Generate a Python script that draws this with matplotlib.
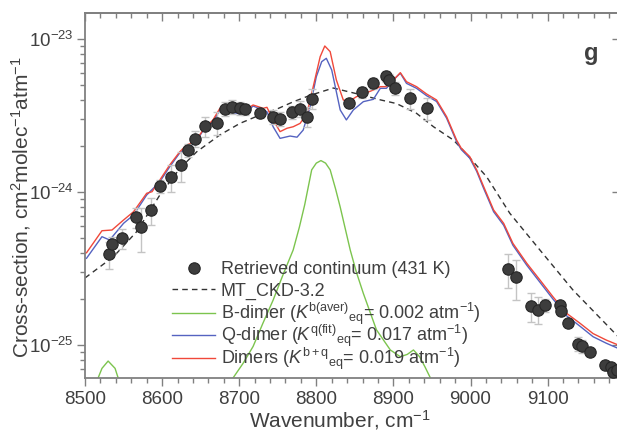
import matplotlib
matplotlib.use('Agg')
import matplotlib.pyplot as plt
import numpy as np
from matplotlib.ticker import MultipleLocator, LogLocator, NullFormatter
from matplotlib.lines import Line2D
from matplotlib.legend import Legend

plt.rcParams['font.family'] = ['Liberation Sans', 'DejaVu Sans']
plt.rcParams['mathtext.fontset'] = 'custom'
plt.rcParams['mathtext.rm'] = 'Liberation Sans'
plt.rcParams['mathtext.it'] = 'Liberation Sans:italic'
plt.rcParams['mathtext.bf'] = 'Liberation Sans:bold'

txt_col = '#404040'
ax_col = '#808080'

# retrieved continuum (431 K)
wn_pts = [8531, 8535, 8548, 8566, 8573, 8585, 8597, 8612, 8624, 8633,
          8643, 8656, 8671, 8682, 8691, 8701, 8708, 8727, 8744, 8753,
          8768, 8779, 8788, 8794, 8843, 8859, 8873, 8890, 8894, 8902,
          8921, 8944, 9049, 9059, 9078, 9088, 9096, 9116, 9117, 9127,
          9140, 9144, 9155, 9174, 9182, 9185, 9190]
cs_pts = [3.94e-25, 4.58e-25, 5.0e-25, 6.9e-25, 5.95e-25, 7.65e-25, 1.10e-24, 1.26e-24, 1.50e-24, 1.89e-24,
          2.24e-24, 2.71e-24, 2.85e-24, 3.52e-24, 3.63e-24, 3.55e-24, 3.48e-24, 3.31e-24, 3.12e-24, 3.03e-24,
          3.35e-24, 3.52e-24, 3.12e-24, 4.09e-24, 3.81e-24, 4.52e-24, 5.15e-24, 5.75e-24, 5.45e-24, 4.80e-24,
          4.13e-24, 3.55e-24, 3.16e-25, 2.80e-25, 1.81e-25, 1.71e-25, 1.82e-25, 1.82e-25, 1.66e-25, 1.39e-25,
          1.02e-25, 9.86e-26, 9.0e-26, 7.45e-26, 7.23e-26, 6.67e-26, 6.9e-26]
# relative uncertainty of each point
rel_err = [0.2, 0.12, 0.15, 0.15, 0.32, 0.2, 0.1, 0.2, 0.22, 0.1,
           0.12, 0.15, 0.17, 0.1, 0.1, 0.1, 0.08, 0.07, 0.1, 0.1,
           0.1, 0.12, 0.15, 0.15, 0.05, 0.08, 0.08, 0.08, 0.08, 0.1,
           0.15, 0.16, 0.25, 0.29, 0.22, 0.2, 0.1, 0.05, 0.05, 0.05,
           0.1, 0.1, 0.05, 0.05, 0.05, 0.05, 0.05]

# MT_CKD-3.2
wn_ckd = [8500, 8537, 8567, 8597, 8623, 8645, 8675, 8701, 8727, 8749,
          8770, 8792, 8822, 8857, 8880, 8904, 8930, 8952, 8978, 8990,
          9021, 9051, 9090, 9133, 9192]
ckd = [2.75e-25, 3.79e-25, 5.52e-25, 9.57e-25, 1.43e-24, 1.84e-24, 2.37e-24, 2.82e-24, 3.2e-24, 3.5e-24,
       3.9e-24, 4.3e-24, 4.8e-24, 4.35e-24, 4.05e-24, 3.8e-24, 3.28e-24, 2.68e-24, 2.19e-24, 1.89e-24,
       1.26e-24, 7.28e-25, 4.19e-25, 2.29e-25, 1.13e-25]

# B-dimer
wn_b = [8500, 8510, 8517, 8522, 8530, 8539, 8543, 8550, 8600, 8650,
        8685, 8692, 8705, 8718, 8731, 8744, 8757, 8770, 8778, 8785,
        8794, 8800, 8806, 8812, 8818, 8825, 8831, 8844, 8852, 8861,
        8878, 8896, 8909, 8918, 8926, 8934, 8941, 8948, 8960, 9000,
        9100, 9192]
b_dim = [2e-26, 4.5e-26, 6.1e-26, 7.05e-26, 7.87e-26, 7.05e-26, 6.1e-26, 4e-26, 1.2e-26, 2.5e-26,
         5.0e-26, 6.1e-26, 7.6e-26, 9.8e-26, 1.4e-25, 1.97e-25, 2.9e-25, 4.19e-25, 5.9e-25, 8.3e-25,
         1.40e-24, 1.55e-24, 1.61e-24, 1.55e-24, 1.40e-24, 1.05e-24, 8.0e-25, 4.19e-25, 3.0e-25, 2.18e-25,
         1.26e-25, 9.3e-26, 8.4e-26, 8.7e-26, 9.3e-26, 8.4e-26, 7.2e-26, 6.1e-26, 4.5e-26, 1.5e-26,
         2e-27, 5e-28]

# Q-dimer
wn_q = [8502, 8522, 8532, 8550, 8563, 8580, 8597, 8610, 8623, 8643,
        8653, 8666, 8675, 8686, 8701, 8710, 8718, 8731, 8736, 8744,
        8753, 8766, 8775, 8783, 8792, 8800, 8807, 8813, 8820, 8831,
        8839, 8848, 8861, 8874, 8883, 8891, 8900, 8909, 8917, 8930,
        8943, 8956, 8969, 8982, 8988, 8999, 9008, 9017, 9030, 9043,
        9055, 9073, 9090, 9107, 9125, 9142, 9159, 9176, 9192]
q_dim = [3.70e-25, 5.12e-25, 4.87e-25, 6.26e-25, 7.10e-25, 9.59e-25, 1.17e-24, 1.47e-24, 1.81e-24, 2.11e-24,
         2.52e-24, 2.89e-24, 3.45e-24, 3.36e-24, 3.25e-24, 3.36e-24, 3.66e-24, 3.45e-24, 3.36e-24, 2.68e-24,
         2.25e-24, 2.33e-24, 2.29e-24, 2.55e-24, 3.62e-24, 5.69e-24, 7.14e-24, 7.51e-24, 6.30e-24, 3.45e-24,
         2.97e-24, 3.45e-24, 3.91e-24, 4.05e-24, 4.78e-24, 4.78e-24, 5.42e-24, 6.0e-24, 5.15e-24, 4.78e-24,
         4.28e-24, 3.92e-24, 3.05e-24, 2.14e-24, 1.90e-24, 1.67e-24, 1.37e-24, 1.06e-24, 7.45e-25, 6.08e-25,
         4.50e-25, 3.33e-25, 2.58e-25, 2.0e-25, 1.55e-25, 1.33e-25, 1.135e-25, 1.03e-25, 9.5e-26]

# Dimers (B + Q)
wn_bq = [8502, 8522, 8535, 8550, 8563, 8580, 8587, 8597, 8610, 8623,
         8632, 8643, 8653, 8666, 8675, 8686, 8697, 8705, 8718, 8731,
         8736, 8744, 8753, 8762, 8770, 8779, 8788, 8796, 8805, 8811,
         8818, 8826, 8835, 8842, 8852, 8861, 8874, 8883, 8891, 8900,
         8909, 8917, 8930, 8943, 8956, 8969, 8982, 8988, 8999, 9008,
         9017, 9030, 9043, 9055, 9073, 9090, 9107, 9125, 9142, 9159,
         9176, 9192]
bq_dim = [4.02e-25, 5.60e-25, 5.66e-25, 6.58e-25, 7.46e-25, 9.84e-25, 1.008e-24, 1.20e-24, 1.51e-24, 1.84e-24,
          2.04e-24, 2.14e-24, 2.55e-24, 2.97e-24, 3.54e-24, 3.45e-24, 3.45e-24, 3.36e-24, 3.72e-24, 3.54e-24,
          3.59e-24, 2.97e-24, 2.49e-24, 2.62e-24, 2.68e-24, 2.82e-24, 3.28e-24, 4.90e-24, 7.69e-24, 9.04e-24,
          8.30e-24, 5.42e-24, 4.01e-24, 3.91e-24, 4.21e-24, 4.39e-24, 4.66e-24, 4.90e-24, 4.90e-24, 5.42e-24,
          6.05e-24, 5.28e-24, 4.90e-24, 4.39e-24, 4.01e-24, 3.12e-24, 2.19e-24, 1.94e-24, 1.71e-24, 1.40e-24,
          1.09e-24, 7.65e-25, 6.26e-25, 4.63e-25, 3.43e-25, 2.67e-25, 2.07e-25, 1.61e-25, 1.39e-25, 1.19e-25,
          1.08e-25, 1.0e-25]

fig = plt.figure(figsize=(6.17, 4.33), dpi=100)
ax = fig.add_axes([85 / 617, 1 - 378.3 / 433, (619 - 85) / 617, (378.3 - 13.3) / 433])

ax.plot(wn_b, b_dim, color='#7cc44e', lw=1.0, zorder=2)
ax.plot(wn_q, q_dim, color='#5563c1', lw=1.0, zorder=3)
ax.plot(wn_bq, bq_dim, color='#f0483a', lw=1.0, zorder=3)
ax.plot(wn_ckd, ckd, color='#333333', lw=1.0, ls=(0, (4, 3)), zorder=2)

cs = np.array(cs_pts)
ax.errorbar(wn_pts, cs, yerr=cs * np.array(rel_err), fmt='none', ecolor='#c4c4c4',
            elinewidth=1.0, capsize=3, capthick=1.0, zorder=4)
ax.plot(wn_pts, cs, 'o', ms=8.2, mfc='#3d3d3d', mec='#262626', mew=0.8, zorder=5)

ax.set_yscale('log')
ax.set_xlim(8500, 9192.6)
ax.set_ylim(6.07e-26, 1.479e-23)

ax.xaxis.set_major_locator(MultipleLocator(100))
ax.xaxis.set_minor_locator(MultipleLocator(20))
ax.yaxis.set_major_locator(LogLocator(base=10, numticks=10))
ax.yaxis.set_minor_locator(LogLocator(base=10, subs=np.arange(2, 10), numticks=20))
ax.yaxis.set_minor_formatter(NullFormatter())

for s in ax.spines.values():
    s.set_color(ax_col)
    s.set_linewidth(1.3)

ax.tick_params(axis='both', which='both', direction='out', colors=ax_col,
               labelcolor=txt_col, labelsize=13.5, width=1.0)
ax.tick_params(axis='both', which='major', length=6)
ax.tick_params(axis='both', which='minor', length=3.5)
ax.tick_params(axis='x', pad=3)
ax.tick_params(axis='y', pad=2)

# inward ticks on top and right
top = ax.secondary_xaxis('top')
top.xaxis.set_major_locator(MultipleLocator(100))
top.xaxis.set_minor_locator(MultipleLocator(20))
top.xaxis.set_major_formatter(NullFormatter())
top.tick_params(which='both', direction='in', colors=ax_col, labeltop=False, width=1.0)
top.tick_params(which='major', length=6)
top.tick_params(which='minor', length=3.5)
top.spines['top'].set_color(ax_col)
top.spines['top'].set_linewidth(1.3)

right = ax.secondary_yaxis('right')
right.yaxis.set_major_locator(LogLocator(base=10, numticks=10))
right.yaxis.set_minor_locator(LogLocator(base=10, subs=[], numticks=10))
right.yaxis.set_major_formatter(NullFormatter())
right.tick_params(which='both', direction='in', colors=ax_col, labelright=False, width=1.0, length=5)
right.spines['right'].set_color(ax_col)

ax.set_xlabel('Wavenumber, cm$^{-1}$', fontsize=15, color=txt_col)
ax.xaxis.set_label_coords(0.478, -0.083)
ax.set_ylabel('Cross-section, cm$^{2}$molec$^{-1}$atm$^{-1}$', fontsize=15, color=txt_col)
ax.yaxis.set_label_coords(-0.097, 0.47)

ax.text(0.948, 0.89, 'g', transform=ax.transAxes, fontsize=17, fontweight='bold',
        color=txt_col, ha='center', va='center')

# legend rows placed one by one so that every row gets the same height
handles = [
    Line2D([], [], ls='none', marker='o', ms=8.2, mfc='#3d3d3d', mec='#262626', mew=0.8),
    Line2D([], [], color='#333333', lw=1.0, ls=(0, (4, 3))),
    Line2D([], [], color='#7cc44e', lw=1.0),
    Line2D([], [], color='#5563c1', lw=1.0),
    Line2D([], [], color='#f0483a', lw=1.0),
]
labels = [
    'Retrieved continuum (431 K)',
    'MT_CKD-3.2',
    r'B-dimer ($K^{\mathrm{b(aver)}}{}_{\mathrm{eq}}$= 0.002 atm$^{-1}$)',
    r'Q-dimer ($K^{\mathrm{q(fit)}}{}_{\mathrm{eq}}$= 0.017 atm$^{-1}$)',
    r'Dimers ($K^{\mathrm{b+q}}{}_{\mathrm{eq}}$= 0.019 atm$^{-1}$)',
]
row_y = [0.297, 0.239, 0.176, 0.116, 0.053]
for h, lab, y in zip(handles, labels, row_y):
    leg = Legend(ax, [h], [lab], loc='center left', bbox_to_anchor=(0.163, y),
                 frameon=False, fontsize=13, handlelength=2.4, handletextpad=0.3,
                 borderpad=0, borderaxespad=0)
    leg.get_texts()[0].set_color(txt_col)
    ax.add_artist(leg)

fig.savefig('out.png', dpi=100)
